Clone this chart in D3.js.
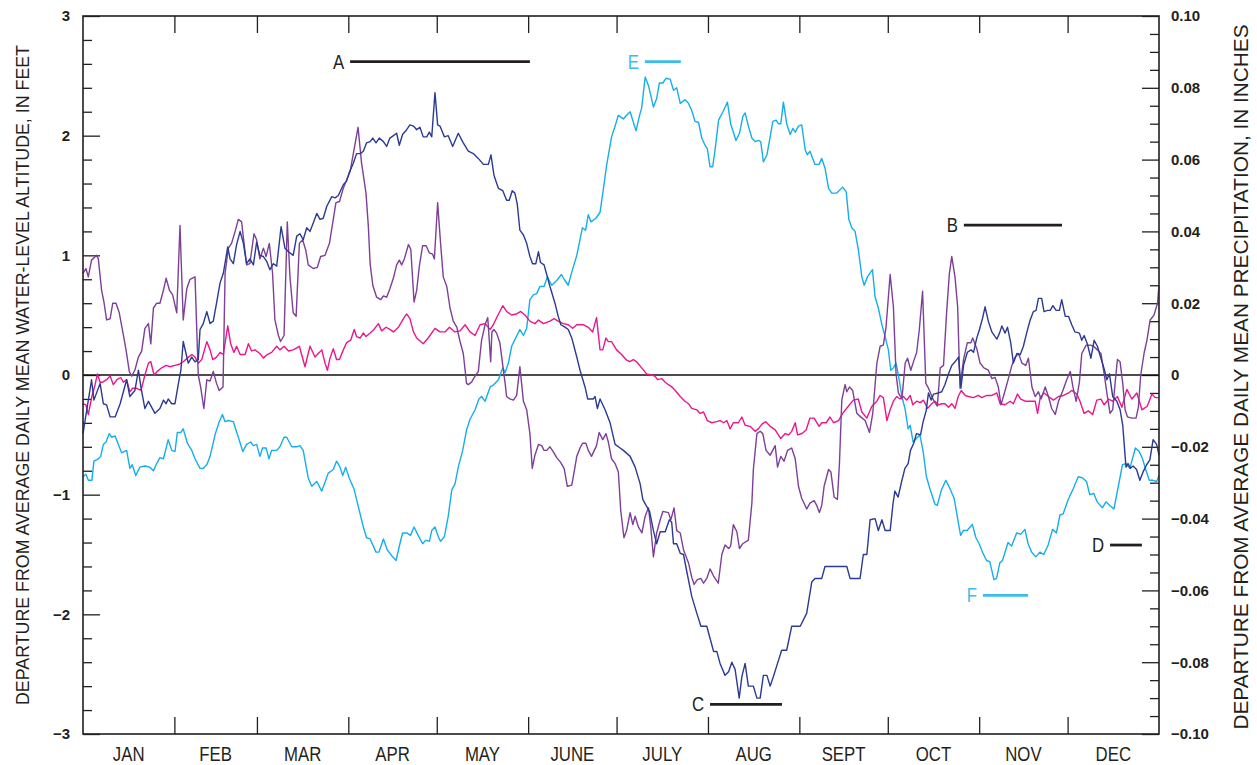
<!DOCTYPE html>
<html><head><meta charset="utf-8">
<script src="https://cdn.jsdelivr.net/npm/d3@7"></script>
<style>
body{margin:0;background:#fff;}
svg{display:block;}
</style></head><body>
<svg id="chart" width="1257" height="765"></svg>
<script>
// ---------------- DATA ----------------
const months = ["JAN","FEB","MAR","APR","MAY","JUNE","JULY","AUG","SEPT","OCT","NOV","DEC"];
const monthDays = [31,28,31,30,31,30,31,31,30,31,30,31];
const leftTicks = [-3,-2,-1,0,1,2,3];
const rightTicks = [-0.10,-0.08,-0.06,-0.04,-0.02,0,0.02,0.04,0.06,0.08,0.10];
const leftTitle = "DEPARTURE FROM AVERAGE DAILY MEAN WATER-LEVEL ALTITUDE, IN FEET";
const rightTitle = "DEPARTURE FROM AVERAGE DAILY MEAN PRECIPITATION, IN INCHES";

// [day of year, departure in feet]
const navySeries = [[0,-0.49],[2.9,-0.04],[3.7,-0.21],[5.8,-0.07],[6.9,-0.24],[8.0,-0.25],[9.2,-0.35],[10.9,-0.35],[12.6,-0.24],[14.8,-0.04],[15.9,-0.18],[17.6,-0.13],[18.8,0.04],[19.7,-0.11],[21.0,-0.28],[22.2,-0.22],[24.4,-0.32],[26.1,-0.28],[27.3,-0.21],[28.2,-0.24],[28.9,-0.20],[30.1,-0.24],[31.2,-0.24],[32.3,-0.08],[33.2,0.04],[34.0,0.28],[35.7,0.10],[36.9,0.15],[38.0,0.11],[39.1,0.13],[39.7,0.38],[40.8,0.43],[42.0,0.53],[43.1,0.43],[44.2,0.45],[45.3,0.60],[46.5,0.77],[47.6,0.85],[49.1,1.07],[49.9,0.97],[51.0,0.93],[52.1,1.09],[53.3,1.20],[54.4,1.10],[55.5,0.93],[56.6,0.97],[57.8,0.92],[58.9,1.11],[60.0,1.00],[61.2,0.99],[62.3,0.95],[63.4,0.88],[64.6,0.93],[65.7,0.91],[67.2,1.24],[68.5,1.06],[69.7,1.03],[71.3,1.00],[72.5,1.16],[73.6,1.18],[74.7,1.13],[75.9,1.23],[77.0,1.20],[78.1,1.27],[79.3,1.35],[80.4,1.30],[81.5,1.31],[82.7,1.41],[84.4,1.49],[85.5,1.48],[86.6,1.50],[88.3,1.59],[89.4,1.62],[90.3,1.69],[91.7,1.77],[92.8,1.85],[94.0,1.85],[95.1,1.87],[96.2,1.94],[97.4,1.95],[98.3,1.98],[99.4,1.94],[100.5,1.98],[101.9,1.95],[103.0,1.91],[104.1,1.98],[105.3,2.00],[106.4,2.02],[107.3,1.92],[108.4,2.01],[109.8,2.05],[110.9,2.09],[112.1,2.08],[113.2,2.05],[114.3,2.07],[115.4,1.99],[116.6,1.99],[117.5,2.03],[118.3,1.99],[119.4,2.36],[120.3,2.09],[121.1,2.08],[122.6,1.99],[123.9,2.00],[125.4,1.91],[127.3,2.02],[129.0,1.94],[130.7,1.87],[132.4,1.85],[134.1,1.81],[135.8,1.76],[137.5,1.76],[138.4,1.84],[139.4,1.67],[140.9,1.56],[142.4,1.54],[143.7,1.46],[144.6,1.46],[145.6,1.54],[146.5,1.52],[147.3,1.43],[148.2,1.21],[149.4,1.17],[150.5,1.10],[151.6,0.99],[152.5,0.93],[153.6,0.93],[154.5,1.03],[155.2,0.94],[156.4,0.92],[157.3,0.84],[158.4,0.74],[160.1,0.60],[161.2,0.49],[162.1,0.42],[163.5,0.40],[164.6,0.38],[165.8,0.31],[167.5,0.15],[168.6,0.04],[170.3,-0.10],[171.2,-0.20],[173.1,-0.20],[173.7,-0.18],[174.5,-0.28],[175.4,-0.20],[177.1,-0.29],[178.8,-0.40],[180.5,-0.58],[182.2,-0.61],[183.3,-0.63],[185.6,-0.68],[187.3,-0.77],[189.0,-0.91],[189.9,-1.04],[191.0,-1.09],[192.2,-1.14],[193.5,-1.30],[194.6,-1.41],[195.8,-1.31],[197.5,-1.31],[198.9,-1.21],[199.7,-1.23],[200.3,-1.41],[201.4,-1.41],[202.6,-1.49],[203.7,-1.50],[204.8,-1.64],[206.5,-1.85],[208.2,-1.99],[209.6,-2.10],[211.6,-2.10],[212.7,-2.20],[213.9,-2.31],[215.0,-2.31],[216.1,-2.41],[217.8,-2.51],[219.0,-2.48],[220.1,-2.40],[221.2,-2.46],[222.6,-2.70],[223.5,-2.52],[224.6,-2.41],[225.7,-2.60],[227.4,-2.60],[228.6,-2.70],[229.7,-2.70],[230.8,-2.51],[232.0,-2.51],[233.1,-2.60],[234.2,-2.52],[235.6,-2.41],[237.0,-2.30],[238.7,-2.30],[240.4,-2.10],[243.3,-2.10],[245.5,-1.99],[247.2,-1.73],[248.3,-1.70],[250.6,-1.70],[251.7,-1.60],[259.1,-1.60],[260.2,-1.70],[263.6,-1.70],[264.7,-1.50],[265.9,-1.50],[267.0,-1.21],[268.7,-1.20],[269.8,-1.30],[271.0,-1.21],[272.1,-1.30],[273.8,-1.30],[274.8,-1.07],[275.4,-0.97],[276.5,-1.02],[277.7,-0.89],[278.8,-0.78],[279.9,-0.74],[280.7,-0.63],[281.8,-0.57],[282.7,-0.49],[284.1,-0.50],[285.0,-0.39],[286.0,-0.30],[286.8,-0.15],[287.7,-0.21],[288.5,-0.16],[290.2,-0.15],[291.3,-0.14],[292.4,-0.08],[293.6,0.01],[294.7,0.08],[295.8,0.11],[297.0,0.15],[297.8,-0.11],[298.7,0.08],[300.0,0.19],[301.2,0.21],[302.1,0.19],[303.2,0.31],[304.1,0.38],[305.1,0.47],[306.0,0.57],[307.1,0.45],[308.3,0.36],[309.4,0.32],[310.0,0.30],[310.9,0.35],[311.7,0.41],[312.8,0.35],[313.6,0.40],[314.7,0.27],[315.6,0.10],[316.8,0.18],[317.9,0.17],[319.0,0.24],[320.2,0.36],[321.3,0.46],[322.4,0.53],[323.3,0.54],[324.1,0.64],[325.2,0.64],[326.0,0.53],[327.2,0.54],[328.1,0.54],[329.0,0.58],[330.1,0.54],[331.2,0.54],[332.0,0.63],[333.2,0.49],[334.3,0.49],[335.4,0.42],[336.5,0.36],[338.0,0.35],[338.8,0.29],[339.6,0.33],[340.7,0.26],[341.9,0.14],[343.0,0.29],[344.1,0.24],[345.3,0.14],[346.4,0.05],[347.3,-0.04],[348.2,0.01],[349.3,-0.18],[350.7,-0.22],[351.8,-0.29],[352.7,-0.42],[353.8,-0.77],[354.5,-0.74],[355.3,-0.78],[356.2,-0.76],[357.4,-0.79],[358.5,-0.88],[359.6,-0.81],[360.8,-0.75],[361.9,-0.71],[363.0,-0.54],[364.2,-0.58],[365,-0.67]];

const purpleSeries = [[0,0.85],[1.0,0.89],[1.8,0.82],[2.9,0.96],[4.6,1.00],[5.2,0.97],[6.3,0.71],[7.1,0.61],[8.0,0.46],[9.2,0.47],[10.1,0.60],[11.2,0.60],[12.3,0.52],[13.5,0.36],[14.6,0.21],[15.7,0.03],[16.5,-0.01],[17.6,0.04],[18.8,0.15],[19.9,0.20],[21.0,0.39],[22.2,0.43],[23.0,0.26],[23.9,0.56],[25.0,0.60],[26.1,0.60],[27.3,0.71],[28.2,0.81],[29.3,0.71],[30.4,0.67],[31.8,0.52],[32.9,1.25],[34.0,0.46],[35.2,0.72],[36.3,0.80],[38.0,0.82],[39.1,0.00],[39.9,-0.10],[41.0,-0.28],[42.0,-0.04],[43.1,-0.05],[44.2,0.03],[45.3,-0.07],[46.2,-0.13],[47.5,-0.10],[48.2,0.85],[49.3,1.06],[50.4,1.10],[51.6,1.20],[52.7,1.30],[53.8,1.28],[54.4,1.15],[55.5,0.92],[56.6,0.93],[58.0,1.18],[58.9,1.13],[60.0,0.97],[61.2,1.06],[62.1,0.99],[63.2,1.10],[64.3,0.85],[65.1,0.46],[66.3,0.33],[67.0,0.28],[68.2,0.33],[69.3,1.28],[70.2,0.82],[71.3,0.52],[72.3,0.49],[73.4,1.10],[74.5,1.13],[75.6,1.04],[76.4,0.92],[78.1,0.89],[79.5,0.90],[80.6,0.99],[82.1,1.00],[83.6,1.10],[84.7,1.27],[85.8,1.44],[87.0,1.45],[88.3,1.56],[89.4,1.63],[90.6,1.70],[91.7,1.85],[93.3,2.07],[94.5,1.77],[96.0,1.52],[96.8,1.24],[97.4,0.93],[98.3,0.75],[99.6,0.65],[101.0,0.63],[101.9,0.66],[103.0,0.65],[104.1,0.72],[105.3,0.81],[106.4,0.92],[107.3,0.96],[108.1,0.92],[109.0,0.97],[110.4,1.09],[111.2,1.05],[112.3,0.61],[113.2,0.71],[114.1,0.91],[115.2,1.08],[116.4,1.08],[117.5,1.02],[118.6,1.01],[119.2,0.97],[120.3,1.44],[121.3,1.10],[122.2,0.82],[123.4,0.74],[124.5,0.56],[125.6,0.45],[126.8,0.40],[127.9,0.28],[129.0,0.18],[130.1,-0.07],[130.7,-0.08],[131.8,-0.06],[133.0,-0.01],[134.1,0.03],[135.2,0.29],[136.4,0.42],[137.3,0.48],[138.3,0.11],[138.7,0.36],[139.4,0.38],[140.3,0.35],[141.4,0.27],[142.6,0.04],[143.2,-0.07],[143.7,-0.18],[144.8,-0.20],[146.0,-0.21],[147.1,-0.17],[148.2,0.07],[149.4,-0.22],[150.5,-0.29],[151.6,-0.49],[152.4,-0.78],[153.3,-0.67],[154.5,-0.58],[155.6,-0.59],[156.4,-0.63],[157.3,-0.63],[158.4,-0.60],[159.5,-0.64],[160.7,-0.69],[162.0,-0.73],[163.2,-0.78],[164.3,-0.93],[165.8,-0.92],[166.6,-0.81],[167.5,-0.68],[168.6,-0.61],[169.5,-0.57],[170.6,-0.57],[171.4,-0.63],[172.5,-0.68],[174.2,-0.59],[175.1,-0.48],[176.3,-0.54],[177.4,-0.49],[178.2,-0.56],[179.3,-0.70],[180.5,-0.74],[181.6,-0.81],[182.4,-1.13],[183.5,-1.36],[184.4,-1.30],[185.6,-1.15],[186.5,-1.25],[187.3,-1.18],[188.4,-1.27],[189.6,-1.32],[190.7,-1.18],[191.8,-1.11],[192.6,-1.27],[193.5,-1.52],[194.6,-1.32],[195.8,-1.21],[196.7,-1.14],[198.6,-1.15],[199.4,-1.21],[200.5,-1.11],[201.4,-1.30],[202.6,-1.32],[203.7,-1.46],[205.4,-1.57],[206.5,-1.69],[207.3,-1.75],[208.4,-1.71],[209.6,-1.70],[210.5,-1.74],[211.6,-1.70],[212.7,-1.62],[213.9,-1.68],[215.5,-1.74],[216.7,-1.50],[217.8,-1.42],[219.0,-1.45],[219.7,-1.43],[220.6,-1.25],[221.8,-1.31],[222.7,-1.45],[223.8,-1.41],[225.7,-1.38],[226.9,-1.07],[227.4,-0.79],[228.6,-0.49],[229.7,-0.47],[230.6,-0.49],[231.7,-0.63],[233.1,-0.67],[234.8,-0.59],[235.6,-0.77],[236.7,-0.68],[237.8,-0.72],[239.0,-0.63],[240.4,-0.61],[241.6,-0.70],[242.7,-0.93],[243.8,-1.03],[245.5,-1.12],[246.6,-1.07],[248.0,-1.05],[248.9,-1.09],[249.8,-1.15],[250.6,-1.09],[251.4,-0.93],[252.9,-0.79],[253.7,-0.81],[254.8,-1.02],[255.9,-1.04],[256.6,-0.74],[257.4,-0.21],[258.5,-0.08],[259.1,-0.14],[260.0,-0.10],[261.1,-0.13],[262.5,-0.32],[263.8,-0.35],[265.3,-0.38],[266.8,-0.48],[267.9,-0.32],[269.3,0.10],[270.4,0.24],[271.5,0.25],[272.4,0.40],[273.8,0.84],[274.9,0.57],[275.8,0.01],[276.6,-0.15],[277.8,-0.20],[278.9,0.10],[279.7,0.14],[280.8,0.04],[281.7,0.11],[282.8,0.19],[283.7,0.38],[284.8,0.70],[285.9,-0.07],[286.8,-0.11],[288.5,-0.21],[289.8,-0.26],[290.8,0.06],[291.9,0.08],[293.0,0.54],[293.9,0.85],[294.7,0.99],[295.8,0.82],[296.7,0.57],[297.5,-0.11],[298.7,0.13],[300.0,0.27],[301.2,0.27],[301.8,0.31],[303.2,0.22],[304.3,0.10],[305.6,0.06],[307.1,0.04],[308.3,-0.03],[309.4,-0.02],[310.5,-0.10],[311.4,-0.25],[312.8,-0.13],[313.9,-0.03],[315.1,0.08],[316.2,0.15],[317.3,0.18],[318.5,0.10],[319.8,0.08],[320.7,0.14],[321.9,-0.10],[323.0,-0.18],[324.1,-0.14],[325.0,-0.20],[326.4,-0.10],[327.5,-0.18],[328.6,-0.28],[329.8,-0.33],[330.9,-0.22],[332.4,-0.13],[333.7,-0.04],[334.9,0.03],[335.8,-0.10],[336.9,-0.22],[338.0,-0.06],[338.8,0.18],[340.3,0.25],[341.7,0.25],[342.8,0.24],[344.1,0.21],[345.3,0.18],[346.4,0.01],[347.5,-0.18],[348.4,-0.32],[349.3,-0.29],[350.1,-0.07],[350.9,0.13],[351.8,0.11],[352.7,-0.07],[353.5,-0.29],[354.3,-0.35],[355.8,-0.36],[357.2,-0.36],[358.0,-0.27],[358.8,0.00],[360.0,0.19],[360.9,0.29],[362.0,0.46],[363.3,0.50],[364.5,0.60],[365,0.75]];

const cyanSeries = [[0,-0.85],[1.0,-0.83],[1.8,-0.88],[3.0,-0.88],[3.7,-0.72],[5.2,-0.70],[6.0,-0.68],[6.9,-0.58],[7.8,-0.56],[8.9,-0.49],[9.7,-0.52],[10.9,-0.51],[12.0,-0.58],[13.1,-0.65],[14.8,-0.63],[15.9,-0.78],[16.7,-0.75],[17.9,-0.84],[19.3,-0.77],[21.0,-0.76],[22.7,-0.77],[23.9,-0.80],[25.0,-0.74],[26.1,-0.69],[27.3,-0.70],[28.9,-0.54],[30.1,-0.63],[31.2,-0.64],[32.0,-0.48],[33.2,-0.48],[34.0,-0.45],[35.4,-0.57],[36.9,-0.63],[38.0,-0.70],[39.7,-0.78],[40.8,-0.78],[42.0,-0.75],[43.1,-0.68],[44.8,-0.50],[46.2,-0.39],[47.3,-0.33],[48.2,-0.39],[49.3,-0.38],[51.0,-0.39],[52.7,-0.52],[54.2,-0.64],[55.5,-0.58],[56.9,-0.56],[57.8,-0.59],[58.9,-0.58],[60.0,-0.68],[60.9,-0.61],[62.1,-0.61],[63.1,-0.70],[64.0,-0.63],[65.7,-0.63],[66.8,-0.60],[68.2,-0.52],[69.1,-0.52],[70.8,-0.60],[72.5,-0.60],[73.6,-0.59],[74.7,-0.63],[76.4,-0.86],[77.6,-0.93],[79.3,-0.89],[81.0,-0.97],[83.2,-0.82],[84.9,-0.79],[86.0,-0.72],[87.2,-0.77],[88.1,-0.84],[89.1,-0.77],[90.3,-0.86],[91.9,-0.95],[93.4,-1.10],[95.1,-1.27],[96.2,-1.36],[97.4,-1.37],[99.4,-1.48],[100.4,-1.48],[101.9,-1.37],[103.2,-1.46],[104.7,-1.51],[106.2,-1.55],[107.5,-1.41],[108.4,-1.32],[109.8,-1.32],[111.1,-1.34],[112.3,-1.27],[113.7,-1.34],[115.2,-1.41],[116.3,-1.38],[117.5,-1.39],[118.3,-1.30],[119.4,-1.27],[120.5,-1.35],[121.3,-1.39],[122.6,-1.35],[123.9,-1.18],[125.1,-0.96],[126.2,-0.91],[127.3,-0.77],[128.8,-0.63],[130.1,-0.46],[131.3,-0.37],[133.0,-0.29],[134.3,-0.20],[135.2,-0.18],[136.4,-0.22],[138.1,-0.10],[139.4,-0.08],[140.9,-0.04],[142.4,0.06],[143.2,0.02],[144.3,0.10],[145.4,0.24],[146.8,0.31],[148.2,0.38],[149.4,0.33],[150.5,0.39],[151.6,0.63],[152.8,0.67],[153.9,0.68],[155.0,0.74],[156.4,0.74],[157.5,0.82],[159.0,0.75],[160.7,0.79],[162.3,0.84],[163.2,0.80],[164.6,0.75],[165.8,0.86],[167.5,1.00],[169.4,1.23],[170.5,1.21],[171.4,1.34],[172.3,1.28],[174.0,1.31],[175.4,1.36],[176.5,1.55],[177.6,1.75],[179.3,1.99],[180.5,2.08],[181.6,2.17],[183.3,2.14],[184.4,2.17],[185.6,2.20],[187.6,2.04],[188.8,2.17],[189.5,2.23],[190.7,2.49],[191.8,2.42],[193.5,2.24],[194.6,2.31],[195.5,2.44],[196.7,2.44],[197.8,2.48],[199.2,2.47],[200.3,2.38],[201.4,2.40],[202.6,2.27],[204.2,2.30],[205.4,2.27],[206.5,2.21],[207.6,2.12],[208.8,2.11],[209.9,1.98],[211.0,1.92],[211.8,1.89],[212.7,1.74],[213.6,1.74],[214.4,1.88],[215.6,2.13],[217.3,2.21],[218.6,2.28],[219.7,2.10],[221.5,1.96],[222.7,2.02],[223.8,2.16],[224.6,2.19],[225.7,2.08],[226.9,1.98],[228.0,1.95],[229.1,1.96],[229.9,1.95],[230.8,1.78],[232.0,1.84],[233.1,1.99],[234.0,2.12],[235.1,2.13],[235.9,2.10],[236.7,2.10],[237.6,2.28],[238.7,2.10],[239.9,2.01],[240.8,2.06],[241.6,2.03],[242.7,2.08],[243.8,2.09],[245.0,1.88],[245.7,1.84],[246.6,1.87],[248.3,1.76],[249.7,1.76],[250.6,1.81],[251.7,1.73],[252.9,1.56],[254.0,1.52],[255.7,1.52],[257.7,1.57],[258.9,1.53],[259.8,1.30],[260.8,1.23],[261.9,1.20],[263.0,1.05],[264.2,0.82],[265.0,0.75],[266.1,0.82],[267.8,0.88],[268.7,0.65],[269.8,0.56],[270.4,0.49],[271.0,0.42],[272.1,0.32],[273.2,0.21],[274.0,0.04],[274.9,0.06],[275.8,0.10],[276.6,0.00],[277.8,-0.18],[278.9,-0.29],[279.9,-0.45],[280.6,-0.42],[281.6,-0.56],[282.7,-0.53],[283.9,-0.50],[285.0,-0.64],[286.1,-0.85],[287.3,-0.95],[289.0,-1.08],[289.8,-1.09],[291.2,-0.96],[292.7,-0.88],[294.1,-0.95],[295.5,-1.03],[296.9,-1.23],[297.7,-1.34],[298.6,-1.30],[299.9,-1.30],[301.7,-1.25],[302.9,-1.36],[304.0,-1.41],[305.1,-1.48],[306.5,-1.55],[307.6,-1.56],[309.0,-1.71],[309.9,-1.70],[311.0,-1.57],[311.9,-1.55],[313.8,-1.40],[315.0,-1.43],[316.7,-1.32],[318.1,-1.33],[319.5,-1.29],[320.6,-1.41],[321.8,-1.48],[323.2,-1.52],[324.6,-1.48],[325.9,-1.50],[327.4,-1.42],[328.9,-1.29],[330.2,-1.32],[331.4,-1.17],[332.5,-1.16],[334.2,-1.04],[335.9,-0.95],[337.6,-0.85],[339.1,-0.86],[340.4,-0.89],[341.5,-1.00],[342.9,-0.99],[344.0,-1.06],[345.8,-1.11],[347.0,-1.06],[348.3,-1.09],[349.7,-1.12],[351.2,-0.93],[352.6,-0.75],[353.8,-0.74],[355.1,-0.78],[357.0,-0.61],[358.3,-0.64],[359.4,-0.70],[360.5,-0.79],[361.7,-0.88],[363.0,-0.88],[364.2,-0.89],[365,-0.84]];

// [day of year, departure in inches] (right axis)
const magentaSeries = [[0,-0.0080],[1.0,-0.0083],[1.8,-0.0110],[3.0,-0.0060],[4.1,-0.0027],[4.9,0.0003],[5.8,-0.0020],[6.7,-0.0020],[8.0,-0.0013],[9.2,-0.0003],[10.3,-0.0027],[11.5,-0.0013],[12.8,-0.0007],[13.7,-0.0020],[14.8,-0.0013],[15.9,-0.0047],[16.8,-0.0037],[18.2,-0.0037],[19.7,-0.0043],[21.0,0.0000],[22.2,0.0033],[23.0,0.0037],[24.1,0.0000],[25.2,0.0010],[26.7,0.0020],[28.2,0.0027],[29.5,0.0023],[31.2,0.0027],[32.7,0.0030],[34.0,0.0037],[35.4,0.0047],[36.9,0.0057],[38.0,0.0050],[39.1,0.0033],[40.3,0.0043],[42.0,0.0093],[43.1,0.0070],[44.0,0.0043],[45.3,0.0050],[46.5,0.0063],[47.6,0.0057],[49.1,0.0137],[50.1,0.0087],[51.2,0.0063],[52.1,0.0080],[53.3,0.0057],[55.0,0.0057],[56.1,0.0087],[57.2,0.0067],[58.3,0.0070],[60.0,0.0060],[61.2,0.0047],[62.5,0.0057],[64.0,0.0063],[65.7,0.0080],[66.8,0.0070],[68.2,0.0080],[69.7,0.0067],[71.3,0.0070],[73.4,0.0080],[75.3,0.0023],[77.0,0.0080],[78.7,0.0050],[79.8,0.0060],[81.0,0.0070],[82.1,0.0033],[82.9,0.0013],[83.8,0.0047],[84.9,0.0073],[86.0,0.0043],[87.0,0.0043],[88.3,0.0070],[89.4,0.0090],[90.8,0.0097],[92.0,0.0127],[92.8,0.0107],[94.0,0.0103],[95.1,0.0117],[96.0,0.0107],[97.4,0.0117],[98.7,0.0127],[100.2,0.0143],[101.3,0.0123],[102.8,0.0133],[104.1,0.0127],[105.3,0.0120],[107.0,0.0133],[108.7,0.0157],[109.8,0.0170],[110.9,0.0157],[112.1,0.0120],[113.2,0.0103],[115.4,0.0087],[117.1,0.0103],[119.4,0.0130],[121.1,0.0120],[122.8,0.0120],[124.3,0.0133],[126.2,0.0120],[127.9,0.0123],[129.6,0.0140],[131.3,0.0120],[133.0,0.0110],[134.7,0.0140],[136.4,0.0143],[138.1,0.0127],[139.2,0.0140],[140.5,0.0163],[142.4,0.0193],[143.7,0.0177],[145.4,0.0167],[147.1,0.0170],[148.5,0.0177],[149.9,0.0167],[151.6,0.0150],[153.3,0.0143],[154.5,0.0153],[156.2,0.0143],[158.4,0.0150],[159.8,0.0157],[161.2,0.0150],[162.9,0.0143],[164.6,0.0140],[166.1,0.0130],[167.5,0.0140],[169.7,0.0140],[171.4,0.0133],[172.9,0.0120],[174.2,0.0160],[175.4,0.0070],[176.3,0.0070],[177.4,0.0103],[178.2,0.0093],[179.3,0.0093],[181.0,0.0070],[182.7,0.0057],[184.2,0.0043],[185.4,0.0037],[186.7,0.0043],[187.8,0.0037],[189.5,0.0020],[191.2,0.0003],[192.9,0.0000],[194.0,-0.0003],[194.9,-0.0013],[196.3,-0.0010],[197.5,-0.0020],[198.6,-0.0027],[199.7,-0.0033],[200.9,-0.0043],[202.6,-0.0060],[204.2,-0.0073],[205.4,-0.0080],[206.5,-0.0093],[208.2,-0.0097],[209.3,-0.0107],[210.5,-0.0103],[211.8,-0.0127],[213.3,-0.0133],[215.0,-0.0130],[216.1,-0.0127],[217.3,-0.0133],[218.4,-0.0127],[219.5,-0.0150],[220.6,-0.0133],[222.3,-0.0133],[223.5,-0.0117],[224.6,-0.0140],[226.3,-0.0143],[228.0,-0.0157],[229.1,-0.0150],[230.3,-0.0137],[231.6,-0.0130],[233.1,-0.0143],[234.8,-0.0153],[236.7,-0.0177],[238.2,-0.0163],[239.3,-0.0167],[240.4,-0.0157],[241.6,-0.0133],[242.4,-0.0167],[243.9,-0.0163],[245.3,-0.0153],[246.6,-0.0120],[248.0,-0.0120],[249.7,-0.0143],[250.6,-0.0133],[252.1,-0.0133],[253.4,-0.0117],[254.6,-0.0133],[256.3,-0.0127],[257.7,-0.0107],[259.6,-0.0087],[261.3,-0.0070],[263.0,-0.0067],[264.2,-0.0103],[265.9,-0.0120],[267.6,-0.0087],[269.3,-0.0073],[270.4,-0.0057],[271.5,-0.0063],[272.7,-0.0127],[273.8,-0.0097],[274.9,-0.0073],[276.0,-0.0060],[277.2,-0.0067],[278.3,-0.0060],[279.4,-0.0070],[280.6,-0.0057],[281.5,-0.0083],[282.8,-0.0073],[284.0,-0.0077],[285.1,-0.0070],[286.5,-0.0093],[287.9,-0.0080],[289.0,-0.0073],[290.2,-0.0083],[291.3,-0.0080],[292.4,-0.0080],[293.6,-0.0090],[294.7,-0.0080],[295.8,-0.0093],[296.9,-0.0060],[297.9,-0.0043],[299.3,-0.0057],[300.4,-0.0060],[302.1,-0.0063],[303.7,-0.0057],[304.9,-0.0063],[306.6,-0.0057],[308.3,-0.0057],[310.0,-0.0050],[311.1,-0.0080],[312.8,-0.0083],[314.5,-0.0073],[315.6,-0.0080],[317.0,-0.0053],[318.1,-0.0067],[319.6,-0.0073],[321.3,-0.0073],[323.0,-0.0073],[323.8,-0.0107],[324.7,-0.0063],[326.0,-0.0050],[327.5,-0.0060],[329.2,-0.0070],[330.9,-0.0060],[332.6,-0.0057],[334.3,-0.0050],[335.4,-0.0043],[337.1,-0.0053],[338.2,-0.0073],[339.6,-0.0107],[341.0,-0.0100],[342.5,-0.0110],[343.9,-0.0070],[345.3,-0.0067],[346.4,-0.0083],[347.9,-0.0067],[349.3,-0.0073],[350.9,-0.0060],[352.4,-0.0090],[354.1,-0.0040],[355.8,-0.0067],[357.5,-0.0050],[359.2,-0.0097],[361.0,-0.0087],[362.6,-0.0053],[363.7,-0.0063],[365,-0.0063]];

// Period markers: label, start day, end day, level (feet)
const markerLabels = ["A","E","B","C","D","F"];
const markerStart  = [90.6, 190.6, 298.8, 212.7, 348.4, 305.3];
const markerEnd    = [151.6, 202.8, 332.1, 237.1, 359.2, 320.6];
const markerLevel  = [2.618, 2.618, 1.253, -2.752, -1.421, -1.841];
const markerKind   = ["k","c","k","k","k","c"];

// ---------------- DRAW ----------------
const svg = d3.select("#chart");
const L = 83, R = 1159, T = 16, B = 734;
const ink = "#231f20";
const sans = "'Liberation Sans',Arial,Helvetica,sans-serif";
const condense = 0.84;

const x = d3.scaleLinear().domain([0, 365]).range([L, R]);
const yL = d3.scaleLinear().domain([-3, 3]).range([B, T]);
const yR = d3.scaleLinear().domain([-0.1, 0.1]).range([B, T]);

const colors = {navy:"#2b3a92", purple:"#7e3f98", magenta:"#ec168c", cyan:"#16aeea", cyanLabel:"#3bbcef"};

// month boundaries
const bounds = [0];
monthDays.forEach(d => bounds.push(bounds[bounds.length-1] + d));
const innerBounds = bounds.slice(1, -1);
const mids = months.map((m,i) => (bounds[i] + bounds[i+1]) / 2);

function styleAxis(g){
  g.select(".domain").remove();
  g.selectAll(".tick line").attr("stroke", ink).attr("stroke-width", 1.3);
}

// left axis minor ticks (every 0.2 ft)
const leftMinor = d3.range(-3, 3.001, 0.2).map(v => +v.toFixed(2)).filter(v => Math.abs(v - Math.round(v)) > 1e-6);
svg.append("g").attr("transform", `translate(${L},0)`)
  .call(d3.axisLeft(yL).tickValues(leftMinor).tickSize(-9).tickFormat(""))
  .call(styleAxis);
svg.append("g").attr("transform", `translate(${L},0)`)
  .call(d3.axisLeft(yL).tickValues(leftTicks).tickSize(-17).tickPadding(13).tickFormat(d3.format("d")))
  .call(styleAxis)
  .call(g => g.selectAll("text").attr("font-family",sans).attr("font-weight","bold").attr("font-size",15).attr("fill",ink));

// right axis minor ticks (every 0.005 in)
const rightMinor = d3.range(-0.1, 0.1001, 0.005).map(v => +v.toFixed(3)).filter(v => Math.abs(v/0.02 - Math.round(v/0.02)) > 1e-6);
svg.append("g").attr("transform", `translate(${R},0)`)
  .call(d3.axisRight(yR).tickValues(rightMinor).tickSize(-9).tickFormat(""))
  .call(styleAxis);
svg.append("g").attr("transform", `translate(${R},0)`)
  .call(d3.axisRight(yR).tickValues(rightTicks).tickSize(-17).tickPadding(12).tickFormat(d => Math.abs(d) < 1e-9 ? "0" : d3.format(".2f")(d)))
  .call(styleAxis)
  .call(g => g.selectAll("text").attr("font-family",sans).attr("font-weight","bold").attr("font-size",15).attr("fill",ink));

// month ticks top and bottom
svg.append("g").attr("transform", `translate(0,${B})`)
  .call(d3.axisBottom(x).tickValues(innerBounds).tickSize(-17).tickFormat(""))
  .call(styleAxis);
svg.append("g").attr("transform", `translate(0,${T})`)
  .call(d3.axisTop(x).tickValues(innerBounds).tickSize(-17).tickFormat(""))
  .call(styleAxis);

// month labels (condensed)
svg.append("g").selectAll("text").data(months).join("text")
  .attr("transform", (d,i) => `translate(${x(mids[i])},761) scale(${condense},1)`)
  .attr("text-anchor", "middle")
  .attr("font-family", sans)
  .attr("font-size", 20)
  .attr("fill", ink)
  .text(d => d);

// zero line
svg.append("line")
  .attr("x1", x(0)).attr("x2", x(365))
  .attr("y1", yL(0)).attr("y2", yL(0))
  .attr("stroke", "#111").attr("stroke-width", 1.6);

// series
const lineL = d3.line().x(d => x(d[0])).y(d => yL(d[1]));
const lineR = d3.line().x(d => x(d[0])).y(d => yR(d[1]));
const gLines = svg.append("g").attr("fill","none").attr("stroke-width",1.4).attr("stroke-linejoin","round");
gLines.append("path").datum(cyanSeries).attr("d", lineL).attr("stroke", colors.cyan);
gLines.append("path").datum(magentaSeries).attr("d", lineR).attr("stroke", colors.magenta);
gLines.append("path").datum(purpleSeries).attr("d", lineL).attr("stroke", colors.purple);
gLines.append("path").datum(navySeries).attr("d", lineL).attr("stroke", colors.navy);

// frame
svg.append("rect").attr("x", L).attr("y", T).attr("width", R - L).attr("height", B - T)
  .attr("fill", "none").attr("stroke", ink).attr("stroke-width", 1.6);

// period markers
const gm = svg.append("g");
markerLabels.forEach((lab, i) => {
  const col = markerKind[i] === "c" ? colors.cyanLabel : ink;
  gm.append("line")
    .attr("x1", x(markerStart[i])).attr("x2", x(markerEnd[i]))
    .attr("y1", yL(markerLevel[i])).attr("y2", yL(markerLevel[i]))
    .attr("stroke", col).attr("stroke-width", 2.8);
  gm.append("text")
    .attr("transform", `translate(${x(markerStart[i]) - 6},${yL(markerLevel[i]) + 7}) scale(${condense},1)`)
    .attr("text-anchor", "end")
    .attr("font-family", sans)
    .attr("font-size", 20)
    .attr("fill", col)
    .text(lab);
});

// axis titles
svg.append("text")
  .attr("transform", "translate(29,375) rotate(-90)")
  .attr("text-anchor", "middle")
  .attr("font-family", sans).attr("font-size", 19).attr("fill", ink)
  .attr("textLength", 660).attr("lengthAdjust", "spacingAndGlyphs")
  .text(leftTitle);
svg.append("text")
  .attr("transform", "translate(1248,377) rotate(-90)")
  .attr("text-anchor", "middle")
  .attr("font-family", sans).attr("font-size", 20).attr("fill", ink)
  .attr("textLength", 705).attr("lengthAdjust", "spacingAndGlyphs")
  .text(rightTitle);
</script>
</body></html>
